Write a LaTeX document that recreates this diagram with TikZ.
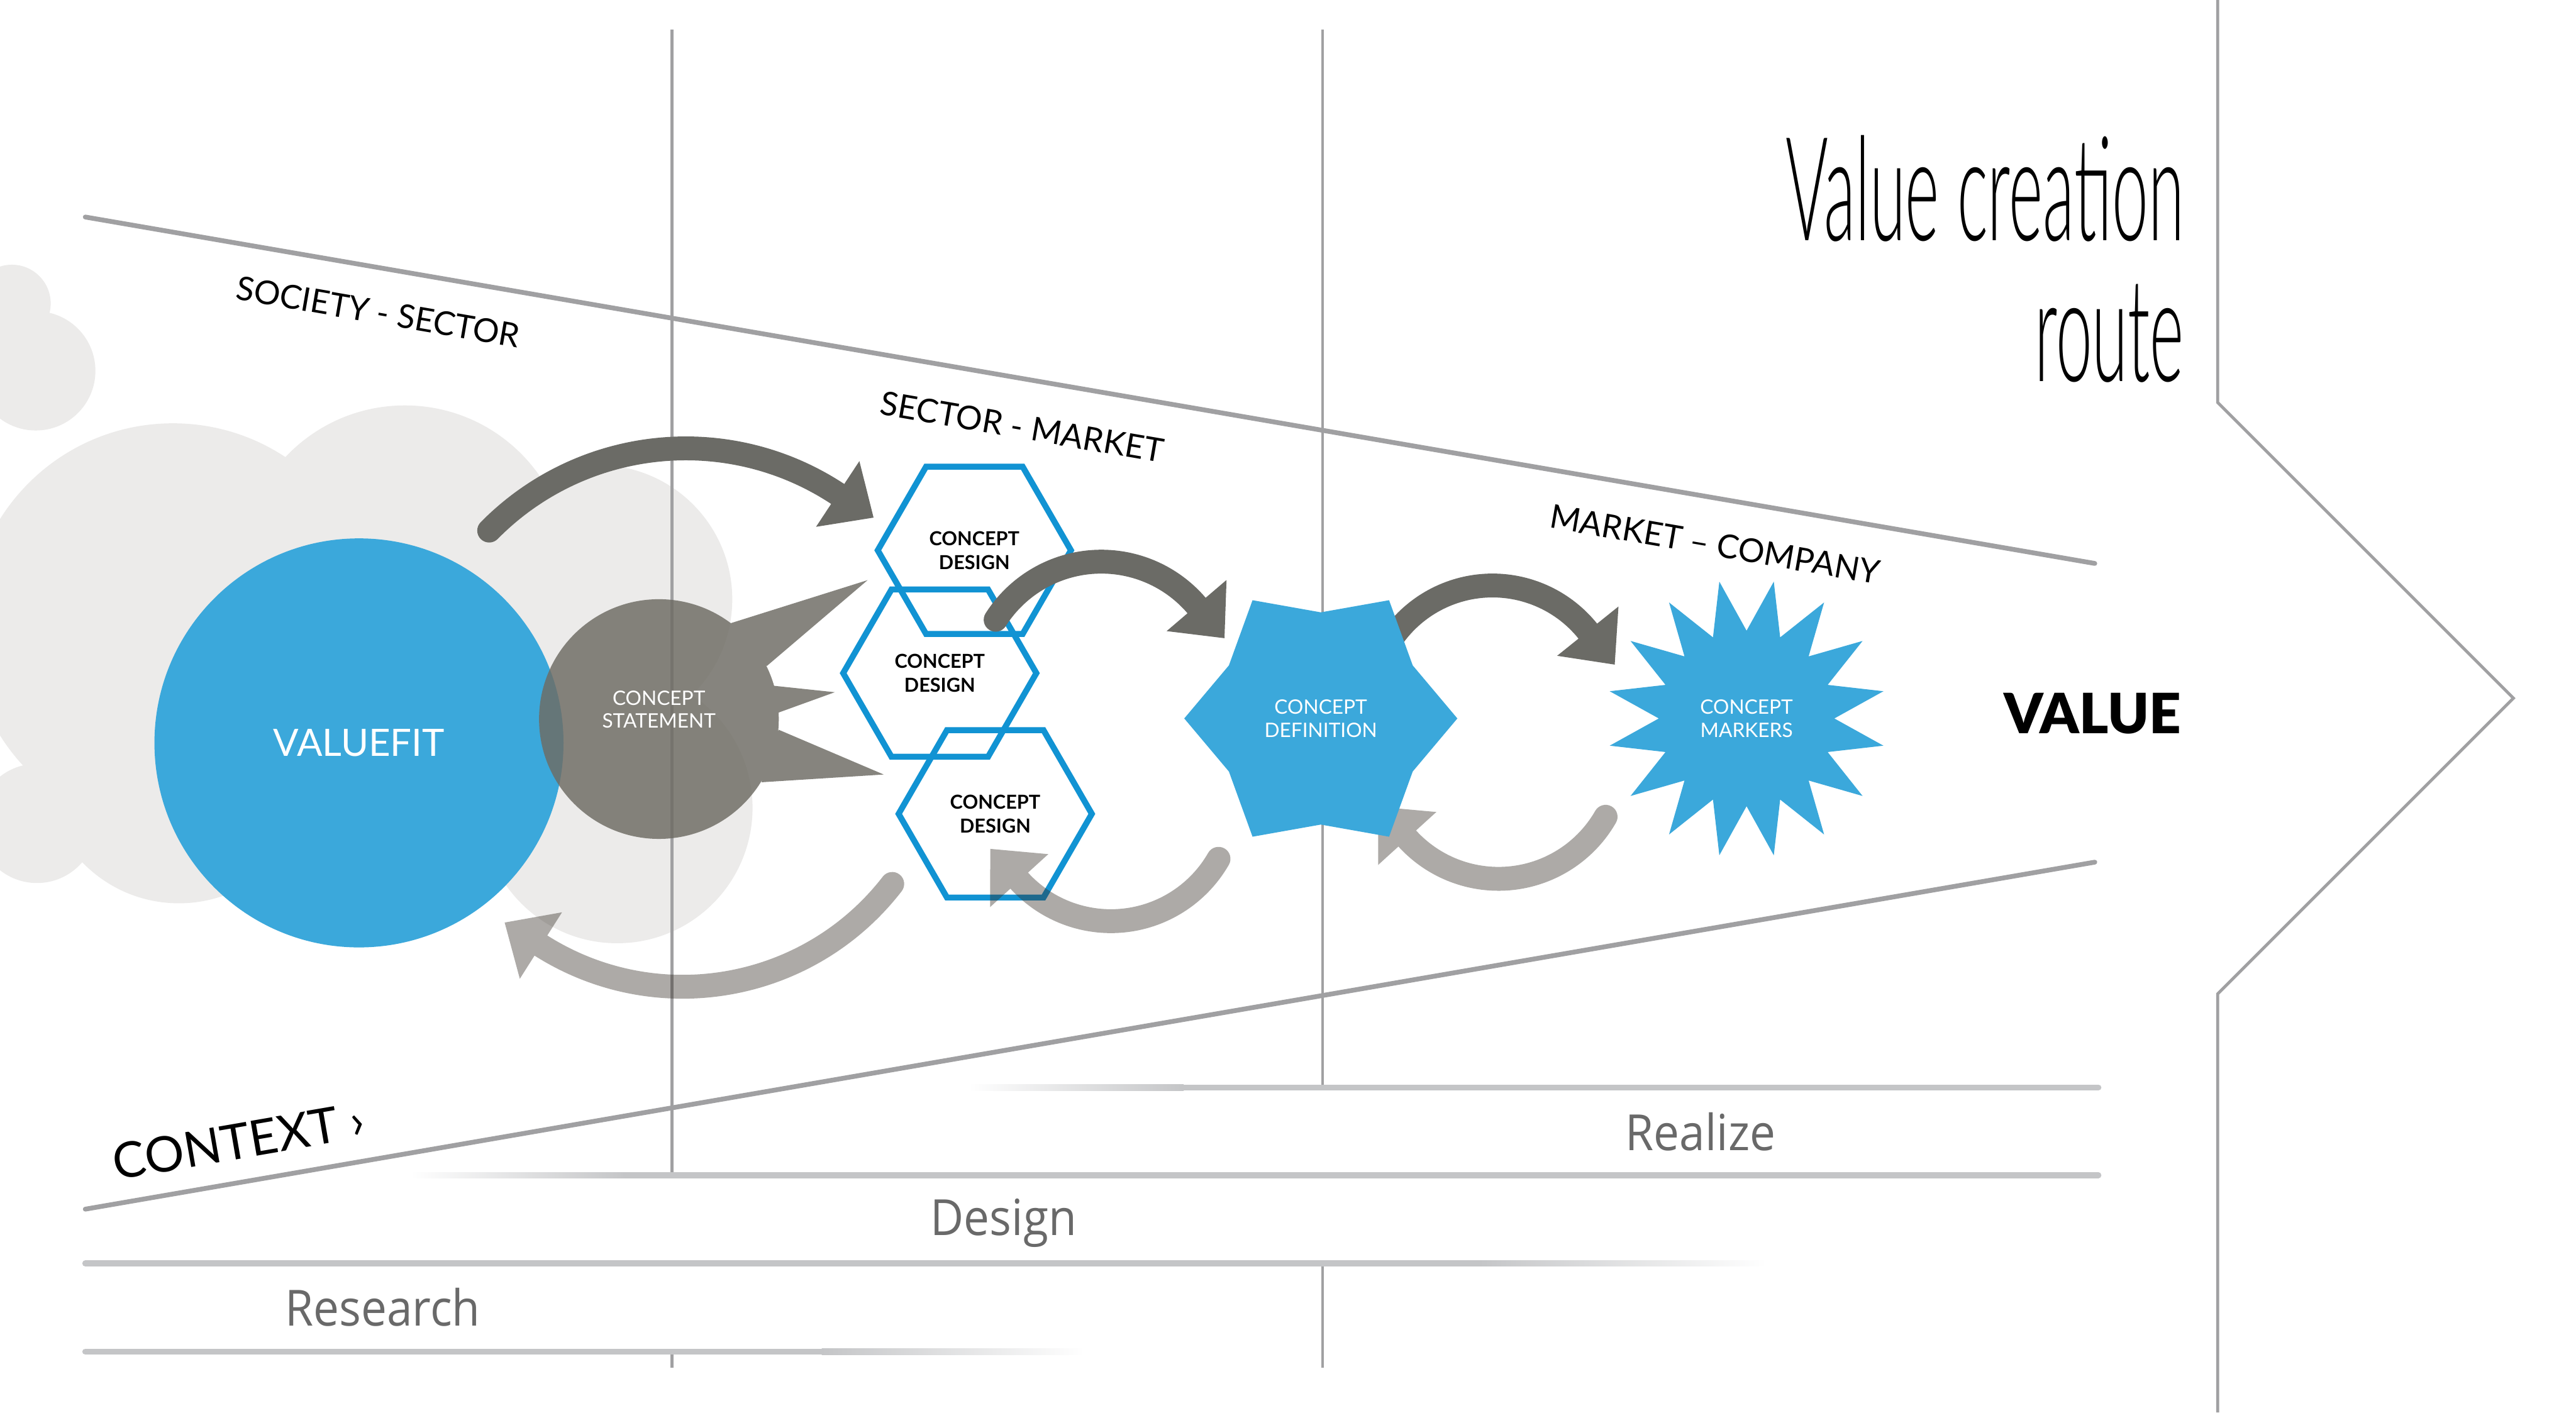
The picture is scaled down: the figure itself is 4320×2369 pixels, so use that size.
\documentclass[tikz,border=0pt]{standalone}
\usepackage{fontspec}
\setmainfont{Lato}
\IfFontExistsTF{Lato Light}
  {\newfontfamily\routefont{Lato Light}[FakeStretch=0.45]}
  {\newfontfamily\routefont{Lato}[FakeStretch=0.45]}
\IfFontExistsTF{Lato Black}
  {\newfontfamily\valuefont{Lato Black}}
  {\newfontfamily\valuefont{Lato}[UprightFont=*-Bold]}
\newfontfamily\phasefont{Open Sans}[FakeStretch=0.92]
\usetikzlibrary{arrows.meta,positioning,calc,shapes.geometric}

\definecolor{vcblue}{RGB}{59,168,219}
\definecolor{hexblue}{RGB}{17,147,211}
\definecolor{cloudgray}{RGB}{236,235,234}
\definecolor{linegray}{RGB}{160,160,162}
\definecolor{bargray}{RGB}{196,197,199}
\definecolor{darkarr}{RGB}{107,107,102}
\definecolor{lightarr}{RGB}{50,43,36}
\definecolor{stmtgray}{RGB}{110,108,100}
\definecolor{phasegray}{RGB}{105,105,105}

% curved loop arrow: centre, radius, start angle, end angle, style
\newcommand\looparrow[5]{%
  \pgfmathsetmacro\lpouter{#2+20}%
  \pgfmathsetmacro\lpinner{#2-20}%
  \pgfmathsetmacro\lphigh{#2+66}%
  \pgfmathsetmacro\lplow{#2-66}%
  \pgfmathsetmacro\lptan{#4+90}%
  \pgfmathsetmacro\lpcs{#3+180}%
  \pgfmathsetmacro\lpce{#3+360}%
  \fill[#5] ($(#1)+(#3:\lpouter)$) arc[start angle=#3, end angle=#4, radius=\lpouter]
    -- ($(#1)+(#4:\lphigh)$) -- ($(#1)+(#4:#2)+(\lptan:72)$) -- ($(#1)+(#4:\lplow)$)
    -- ($(#1)+(#4:\lpinner)$) arc[start angle=#4, end angle=#3, radius=\lpinner]
    arc[start angle=\lpcs, end angle=\lpce, radius=20] -- cycle;}

\begin{document}
\begin{tikzpicture}[x=0.1mm, y=-0.1mm,
    guide/.style={linegray, line width=0.5mm},
    funnel/.style={linegray, line width=0.8mm, line cap=round},
    bar/.style={bargray, line width=1mm, line cap=round},
    band/.style={font=\fontsize{15.7}{18}\selectfont},
    phase/.style={font=\phasefont\fontsize{23.8}{28}\selectfont, text=phasegray, anchor=base},
    title/.style={font=\routefont\fontsize{69}{67}\selectfont, anchor=base east},
    hexa/.style={draw=hexblue, line width=1mm, regular polygon, regular polygon sides=6,
      minimum size=32.4mm, inner sep=0pt, align=center, font=\bfseries\fontsize{9.2}{11.4}\selectfont},
    burst/.style={star, fill=vcblue, inner sep=0pt, align=center, text=white,
      font=\fontsize{9.5}{11.2}\selectfont},
    darkloop/.style={fill=darkarr},
    lightloop/.style={fill=lightarr, fill opacity=0.4}
  ]
  \fill[white] (0,0) rectangle (4320,2369);
  \useasboundingbox (0,0) rectangle (4320,2369);

  % cloud
  \begin{scope}
    \clip (0,0) rectangle (4320,2369);
    \fill[cloudgray] (20,509) circle[radius=65] (60,622) circle[radius=100]
      (290,1052) circle[radius=342] (679,955) circle[radius=275]
      (1003,1005) circle[radius=225] (1035,1355) circle[radius=227]
      (300,1290) circle[radius=225] (62,1381) circle[radius=100];
  \end{scope}

  % stage lines
  \draw[guide] (1127,50) -- (1127,1968) (1127,2267) -- (1127,2294);
  \draw[guide] (2218,50) -- (2218,1824) (2218,2119) -- (2218,2294);
  \draw[guide] (3719,0) -- (3719,675) -- (4215,1171) -- (3719,1667) -- (3719,2369);
  \draw[funnel] (143,364) -- (3513,945);
  \draw[funnel] (143,2028) -- (3513,1446);

  % phase bars
  \shade[left color=white, right color=bargray] (1625,1819) rectangle (1985,1829);
  \draw[bar] (1985,1824) -- (3519,1824);
  \shade[left color=white, right color=bargray] (689,1966) rectangle (1050,1976);
  \draw[bar] (1050,1971) -- (3519,1971);
  \draw[bar] (143,2119) -- (2480,2119);
  \shade[left color=bargray, right color=white] (2480,2114) rectangle (2962,2124);
  \draw[bar] (143,2267) -- (1378,2267);
  \shade[left color=bargray, right color=white] (1378,2262) rectangle (1818,2272);

  \node[circle, fill=vcblue, minimum size=68.6mm, inner sep=0pt, text=white,
    font=\fontsize{18}{22}\selectfont] (valuefit) at (602,1246) {VALUEFIT};

  \coordinate (stmtc) at (1105,1206);
  \fill[stmtgray, opacity=0.83] (stmtc) circle[radius=201]
    (1223,1046) -- (1455,973) -- (1286,1117) -- cycle
    (1296,1150) -- (1400,1161) -- (1306,1195) -- cycle
    (1306,1224) -- (1482,1299) -- (1277,1312) -- cycle;
  \node[align=center, text=white, font=\fontsize{9.5}{11}\selectfont] (stmt) at (1105,1190)
    {CONCEPT\\STATEMENT};

  \node[hexa] (design1) at (1634,923) {CONCEPT\\DESIGN};
  \node[hexa] (design2) at (1576,1129) {CONCEPT\\DESIGN};
  \node[hexa] (design3) at (1669,1365) {CONCEPT\\DESIGN};

  \coordinate (a1c) at (1150,1215);
  \coordinate (a2c) at (1847,1152);
  \coordinate (a3c) at (2503,1187);
  \coordinate (b1c) at (2513,1267);
  \coordinate (b2c) at (1863,1337);
  \coordinate (b3c) at (1145,1211);
  \looparrow{a1c}{463}{-135.4}{-56.6}{darkloop}
  \looparrow{a2c}{210}{-147.6}{-40.5}{darkloop}
  \looparrow{a3c}{205}{-150}{-38.8}{darkloop}
  \looparrow{b1c}{207}{29.8}{137.7}{lightloop}
  \looparrow{b2c}{208}{29.8}{137.7}{lightloop}
  \looparrow{b3c}{444}{37.7}{122.4}{lightloop}

  \node[burst, star points=6, star point ratio=1.287, minimum size=45.8mm,
    shape border rotate=30] (definition) at (2215,1205) {CONCEPT\\DEFINITION};
  \node[burst, star points=16, star point ratio=1.59, minimum size=46.8mm,
    shape border rotate=11.25] (markers) at (2929,1205) {CONCEPT\\MARKERS};

  \node[band, rotate=-9.8] (socsec) at (634,523) {SOCIETY - SECTOR};
  \node[band, rotate=-9.8] (secmar) at (1714,716) {SECTOR - MARKET};
  \node[band, rotate=-9.8] (marcom) at (2876,913) {MARKET – COMPANY};
  \node[font=\fontsize{23.5}{28}\selectfont, rotate=9.8] (context) at (400,1914) {CONTEXT ›};

  \node[phase] (realize) at (2852,1930) {Realize};
  \node[phase] (design) at (1683,2072) {Design};
  \node[phase] (research) at (642,2224) {Research};

  \node[title] (title) at (3675,403) {Value creation};
  \node[title] (route) at (3675,640) {route};
  \node[font=\valuefont\fontsize{26.5}{32}\selectfont, anchor=base east] (value) at (3670,1230) {VALUE};
\end{tikzpicture}
\end{document}
